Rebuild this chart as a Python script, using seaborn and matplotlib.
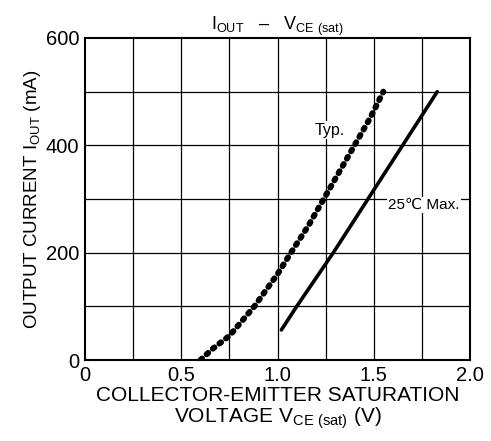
import matplotlib
matplotlib.use("Agg")
import matplotlib.pyplot as plt
import seaborn as sns
import pandas as pd

typ_v = [0.60, 0.66, 0.75, 0.88, 1.00, 1.07, 1.16, 1.24, 1.32, 1.40, 1.48, 1.55]
typ_i = [0, 20, 45, 100, 160, 200, 250, 300, 350, 400, 450, 500]
max_v = [1.02, 1.10, 1.29, 1.47, 1.65, 1.83]
max_i = [56, 100, 200, 300, 400, 500]
x_ticks = [0, 0.5, 1.0, 1.5, 2.0]
x_ticklabels = ["0", "0.5", "1.0", "1.5", "2.0"]
y_ticks = [0, 200, 400, 600]

sns.set_style("white")
plt.rcParams['font.family'] = ['Liberation Sans', 'DejaVu Sans']
plt.rcParams['mathtext.default'] = 'regular'
plt.rcParams['mathtext.fontset'] = 'custom'
plt.rcParams['mathtext.rm'] = 'Liberation Sans'
plt.rcParams['text.color'] = 'black'
plt.rcParams['axes.labelcolor'] = 'black'

fig = plt.figure(figsize=(4.91, 4.41), dpi=100)
ax = fig.add_axes([85/491, 1-360/441, 385/491, 322/441])

df_typ = pd.DataFrame({"v": typ_v, "i": typ_i})
df_max = pd.DataFrame({"v": max_v, "i": max_i})

sns.lineplot(data=df_typ, x="v", y="i", sort=False, ax=ax, color="black",
             linewidth=4.3, linestyle=(0, (0.35, 1.05)), dash_capstyle="round", zorder=3)
sns.lineplot(data=df_max, x="v", y="i", sort=False, ax=ax, color="black",
             linewidth=2.6, zorder=3)

ax.set_xlim(0, 2.0)
ax.set_ylim(0, 600)
for gx in [0.25 * k for k in range(1, 8)]:
    ax.axvline(gx, color="black", linewidth=0.9, zorder=1)
for gy in [100 * k for k in range(1, 6)]:
    ax.axhline(gy, color="black", linewidth=0.9, zorder=1)

ax.set_xticks(x_ticks)
ax.set_xticklabels(x_ticklabels)
ax.set_yticks(y_ticks)
ax.tick_params(axis="both", direction="out", length=3, width=1, labelsize=14.5,
               pad=1, color="black", labelcolor="black")
for s in ax.spines.values():
    s.set_color("black")
    s.set_linewidth(1.5)

ax.set_xlabel("COLLECTOR-EMITTER SATURATION\nVOLTAGE $V_{CE\\ (sat)}$ (V)", fontsize=15,
              labelpad=1, linespacing=1.05, color="black")
ax.set_ylabel("OUTPUT CURRENT $I_{OUT}$ (mA)", fontsize=13.5, labelpad=2, color="black")
ax.set_title("$I_{OUT}$   –   $V_{CE\\ (sat)}$", fontsize=13, pad=6, color="black")

ax.text(1.27, 428, "Typ.", fontsize=11.5, ha="center", va="center", zorder=2,
        bbox=dict(facecolor="white", edgecolor="none", pad=1))
ax.text(1.76, 289, "25℃ Max.", fontsize=11, ha="center", va="center", zorder=2,
        bbox=dict(facecolor="white", edgecolor="none", pad=1))

fig.savefig("out.png", dpi=100)
